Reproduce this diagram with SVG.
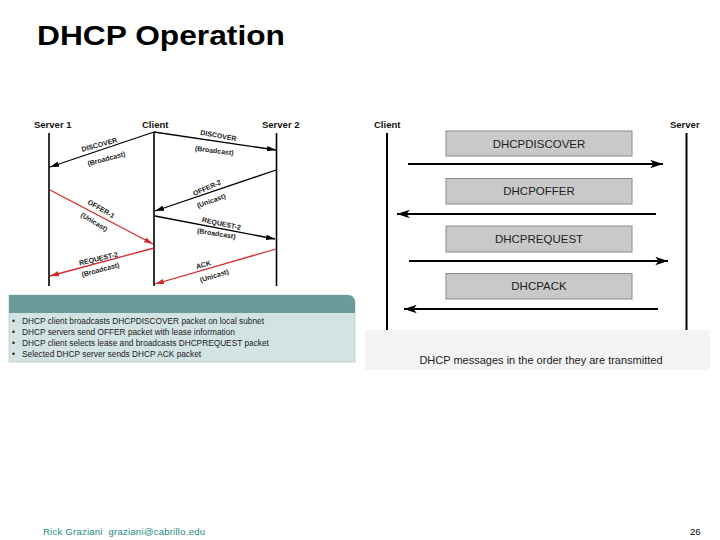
<svg xmlns="http://www.w3.org/2000/svg" width="720" height="540" viewBox="0 0 720 540">
<style>
.t{font-family:"Liberation Sans",Arial,sans-serif}
.life{stroke:#000;stroke-width:1.6;fill:none}
.lifeR{stroke:#000;stroke-width:2;fill:none}
.arr{stroke:#000;stroke-width:1.3;fill:none;marker-end:url(#ah)}
.arrR{stroke:#d42a2a;stroke-width:1.3;fill:none;marker-end:url(#ahr)}
.arrB{stroke:#000;stroke-width:2;fill:none;marker-end:url(#ahb)}
.lbl{font-family:"Liberation Sans",Arial,sans-serif;font-size:7px;font-weight:bold;fill:#222;text-anchor:middle}
.hdr{font-family:"Liberation Sans",Arial,sans-serif;font-size:9.5px;font-weight:bold;fill:#111}
.msg{fill:#c9c9c9;stroke:#8a8a8a;stroke-width:1}
.msgt{font-family:"Liberation Sans",Arial,sans-serif;font-size:11.5px;fill:#222;text-anchor:middle}
.bul{font-family:"Liberation Sans",Arial,sans-serif;font-size:8.3px;fill:#222}
</style>
<defs>
<marker id="ah" viewBox="0 0 10 6" refX="10" refY="3" markerWidth="9" markerHeight="5.4" markerUnits="userSpaceOnUse" orient="auto"><path d="M0,0 L10,3 L0,6 Z" fill="#000"/></marker>
<marker id="ahr" viewBox="0 0 10 6" refX="10" refY="3" markerWidth="9" markerHeight="5.4" markerUnits="userSpaceOnUse" orient="auto"><path d="M0,0 L10,3 L0,6 Z" fill="#d42a2a"/></marker>
<marker id="ahb" viewBox="0 0 12 8" refX="12" refY="4" markerWidth="13" markerHeight="8.5" markerUnits="userSpaceOnUse" orient="auto"><path d="M0,0 L12,4 L0,8 L3,4 Z" fill="#000"/></marker>
</defs>
<rect width="720" height="540" fill="#fff"/>
<text class="t" x="37" y="45" font-size="27" font-weight="bold" textLength="248" lengthAdjust="spacingAndGlyphs" fill="#000">DHCP Operation</text>

<g id="left-diagram">
<g id="server1"><text class="hdr" x="34" y="128">Server 1</text><line class="life" x1="49" y1="133" x2="49" y2="286"/></g>
<g id="client"><text class="hdr" x="142" y="128">Client</text><line class="life" x1="154" y1="132" x2="154" y2="286"/></g>
<g id="server2"><text class="hdr" x="262" y="128">Server 2</text><line class="life" x1="276.5" y1="133" x2="276.5" y2="286"/></g>
</g>

<g id="connectors-left">
<line class="arr" x1="154" y1="132" x2="50" y2="167"/>
<line class="arr" x1="154" y1="132" x2="276" y2="150"/>
<line class="arrR" x1="50" y1="190" x2="153" y2="244"/>
<line class="arr" x1="276" y1="170" x2="155" y2="211"/>
<line class="arr" x1="155" y1="216" x2="275" y2="239"/>
<line class="arrR" x1="154" y1="248" x2="50" y2="276"/>
<line class="arrR" x1="276" y1="249" x2="155" y2="284"/>
<text class="lbl" transform="translate(100,147) rotate(-15)">DISCOVER</text>
<text class="lbl" transform="translate(107,161) rotate(-15)">(Broadcast)</text>
<text class="lbl" transform="translate(218,138) rotate(10)">DISCOVER</text>
<text class="lbl" transform="translate(214,153) rotate(7)">(Broadcast)</text>
<text class="lbl" transform="translate(100,211) rotate(30)">OFFER-1</text>
<text class="lbl" transform="translate(93,224) rotate(31)">(Unicast)</text>
<text class="lbl" transform="translate(208,190) rotate(-24)">OFFER-2</text>
<text class="lbl" transform="translate(212,203) rotate(-20)">(Unicast)</text>
<text class="lbl" transform="translate(221,226) rotate(12)">REQUEST-2</text>
<text class="lbl" transform="translate(216,236) rotate(9)">(Broadcast)</text>
<text class="lbl" transform="translate(99,261) rotate(-13)">REQUEST-2</text>
<text class="lbl" transform="translate(101,272) rotate(-15)">(Broadcast)</text>
<text class="lbl" transform="translate(204,267) rotate(-15)">ACK</text>
<text class="lbl" transform="translate(215,278) rotate(-17)">(Unicast)</text>
</g>

<g id="summary-panel">
<path d="M9,295 H347 Q355,295 355,303 V362 H9 Z" fill="#d3e2e3" stroke="#b8cccc" stroke-width="0.8"/>
<path d="M9,295 H347 Q355,295 355,303 V313 H9 Z" fill="#6b9b9b"/>
<text class="bul" x="12" y="323.5">•</text><text class="bul" x="22" y="323.5">DHCP client broadcasts DHCPDISCOVER packet on local subnet</text>
<text class="bul" x="12" y="334.5">•</text><text class="bul" x="22" y="334.5">DHCP servers send OFFER packet with lease information</text>
<text class="bul" x="12" y="345.5">•</text><text class="bul" x="22" y="345.5">DHCP client selects lease and broadcasts DHCPREQUEST packet</text>
<text class="bul" x="12" y="356.5">•</text><text class="bul" x="22" y="356.5">Selected DHCP server sends DHCP ACK packet</text>
</g>

<g id="right-diagram">
<rect x="365" y="330" width="345" height="40" fill="#f4f4f4"/>
<text class="t" x="541" y="364" font-size="11" fill="#222" text-anchor="middle">DHCP messages in the order they are transmitted</text>
<g id="r-client"><text class="hdr" x="374" y="128">Client</text><line class="lifeR" x1="387" y1="133" x2="387" y2="330"/></g>
<g id="r-server"><text class="hdr" x="670" y="128">Server</text><line class="lifeR" x1="686.5" y1="133" x2="686.5" y2="330"/></g>
<g id="m-discover"><rect class="msg" x="446" y="131" width="186" height="25"/><text class="msgt" x="539" y="147.5">DHCPDISCOVER</text></g>
<g id="m-offer"><rect class="msg" x="446" y="178.5" width="186" height="25.5"/><text class="msgt" x="539" y="195">DHCPOFFER</text></g>
<g id="m-request"><rect class="msg" x="446" y="226" width="186" height="26"/><text class="msgt" x="539" y="243">DHCPREQUEST</text></g>
<g id="m-ack"><rect class="msg" x="446" y="273.5" width="186" height="25.5"/><text class="msgt" x="539" y="290">DHCPACK</text></g>
</g>

<g id="connectors-right">
<line class="arrB" x1="408" y1="164" x2="663" y2="164"/>
<line class="arrB" x1="656" y1="214" x2="397" y2="214"/>
<line class="arrB" x1="409" y1="261" x2="668" y2="261"/>
<line class="arrB" x1="658" y1="309" x2="404" y2="309"/>
</g>

<text class="t" x="43" y="535" font-size="9.5" fill="#1a8a86" xml:space="preserve" textLength="162" lengthAdjust="spacing">Rick Graziani  graziani@cabrillo.edu</text>
<text class="t" x="690" y="535" font-size="9.5" fill="#000">26</text>
</svg>
